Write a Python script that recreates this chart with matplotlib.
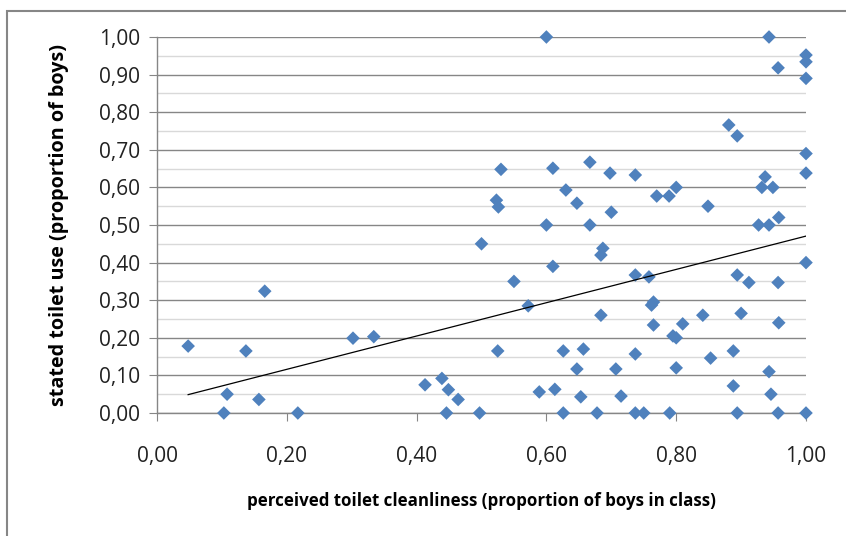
import numpy as np
import matplotlib
matplotlib.use('Agg')
from matplotlib import pyplot as plt
from matplotlib.patches import Rectangle
from matplotlib.ticker import FuncFormatter, MultipleLocator

# perceived cleanliness (x) vs stated toilet use (y), one point per class
cleanliness = [
    0.048, 0.103, 0.108, 0.137, 0.157, 0.166, 0.217, 0.302, 0.334, 0.413,
    0.439, 0.446, 0.449, 0.464, 0.497, 0.500, 0.523, 0.526, 0.525, 0.530,
    0.550, 0.572, 0.589, 0.600, 0.600, 0.610, 0.610, 0.613, 0.626, 0.626,
    0.630, 0.647, 0.647, 0.653, 0.657, 0.667, 0.667, 0.678, 0.684, 0.687,
    0.684, 0.698, 0.700, 0.707, 0.715, 0.737, 0.737, 0.737, 0.737, 0.750,
    0.758, 0.762, 0.765, 0.765, 0.770, 0.789, 0.795, 0.790, 0.800, 0.800,
    0.800, 0.810, 0.841, 0.849, 0.853, 0.881, 0.888, 0.888, 0.894, 0.894,
    0.894, 0.900, 0.912, 0.927, 0.932, 0.937, 0.943, 0.943, 0.943, 0.946,
    0.949, 0.957, 0.957, 0.958, 0.957, 0.958, 1.000, 1.000, 1.000, 1.000,
    1.000, 1.000, 1.000,
]
toilet_use = [
    0.178, 0.000, 0.050, 0.165, 0.036, 0.324, 0.000, 0.199, 0.203, 0.075,
    0.092, 0.000, 0.062, 0.036, 0.000, 0.450, 0.566, 0.548, 0.165, 0.648,
    0.350, 0.285, 0.056, 1.000, 0.500, 0.390, 0.651, 0.063, 0.165, 0.000,
    0.593, 0.117, 0.558, 0.043, 0.170, 0.667, 0.500, 0.000, 0.420, 0.438,
    0.260, 0.638, 0.534, 0.117, 0.045, 0.633, 0.367, 0.157, 0.000, 0.000,
    0.362, 0.287, 0.295, 0.234, 0.577, 0.577, 0.205, 0.000, 0.600, 0.200,
    0.120, 0.237, 0.260, 0.550, 0.146, 0.766, 0.165, 0.072, 0.737, 0.367,
    0.000, 0.265, 0.347, 0.500, 0.600, 0.628, 1.000, 0.500, 0.110, 0.050,
    0.600, 0.918, 0.347, 0.520, 0.000, 0.240, 0.952, 0.934, 0.890, 0.690,
    0.638, 0.400, 0.000,
]

AXIS_GREY = '#868686'
MINOR_GREY = '#d9d9d9'
MARKER_BLUE = '#4f81bd'

plt.rcParams['font.family'] = ['Open Sans', 'DejaVu Sans']

fig = plt.figure(figsize=(8.46, 5.36), dpi=100)
ax = fig.add_axes([157 / 846, 123 / 536, 649 / 846, 376 / 536])

# chart area frame (cut off at right and bottom like the screenshot)
fig.patches.append(Rectangle((7 / 846, -0.05), 1.0, 1 - 11 / 536 + 0.05,
                             transform=fig.transFigure, fill=False,
                             edgecolor=AXIS_GREY, linewidth=1.5))

x = np.array(cleanliness)
y = np.array(toilet_use)

# gridlines behind the markers
ax.set_axisbelow(True)
ax.yaxis.set_major_locator(MultipleLocator(0.1))
ax.yaxis.set_minor_locator(MultipleLocator(0.05))
ax.xaxis.set_major_locator(MultipleLocator(0.2))
ax.yaxis.grid(True, which='major', color=AXIS_GREY, linewidth=1.0)
ax.yaxis.grid(True, which='minor', color=MINOR_GREY, linewidth=1.0)

ax.scatter(x, y, marker='D', s=48, color=MARKER_BLUE, edgecolors='none',
           zorder=3, clip_on=False)

# linear trend line over the data range
slope, intercept = np.polyfit(x, y, 1)
xs = np.array([x.min(), x.max()])
ax.plot(xs, slope * xs + intercept, color='black', linewidth=0.9, zorder=4)

ax.set_xlim(0, 1)
ax.set_ylim(0, 1)

comma = FuncFormatter(lambda v, pos: f'{v:.2f}'.replace('.', ','))
ax.xaxis.set_major_formatter(comma)
ax.yaxis.set_major_formatter(comma)

for side in ['top', 'right']:
    ax.spines[side].set_visible(False)
for side in ['left', 'bottom']:
    ax.spines[side].set_color(AXIS_GREY)
    ax.spines[side].set_linewidth(1.0)

ax.tick_params(axis='both', which='major', length=6, color=AXIS_GREY,
               labelsize=15, labelcolor='#222222')
ax.tick_params(axis='y', which='minor', length=0)
ax.tick_params(axis='y', pad=6)
ax.tick_params(axis='x', pad=18)

ax.set_xlabel('perceived toilet cleanliness (proportion of boys in class)',
              fontsize=12.2, fontweight='bold', labelpad=18)
ax.set_ylabel('stated toilet use (proportion of boys)',
              fontsize=14.2, fontweight='bold', labelpad=22)

fig.savefig('out.png', dpi=100)
